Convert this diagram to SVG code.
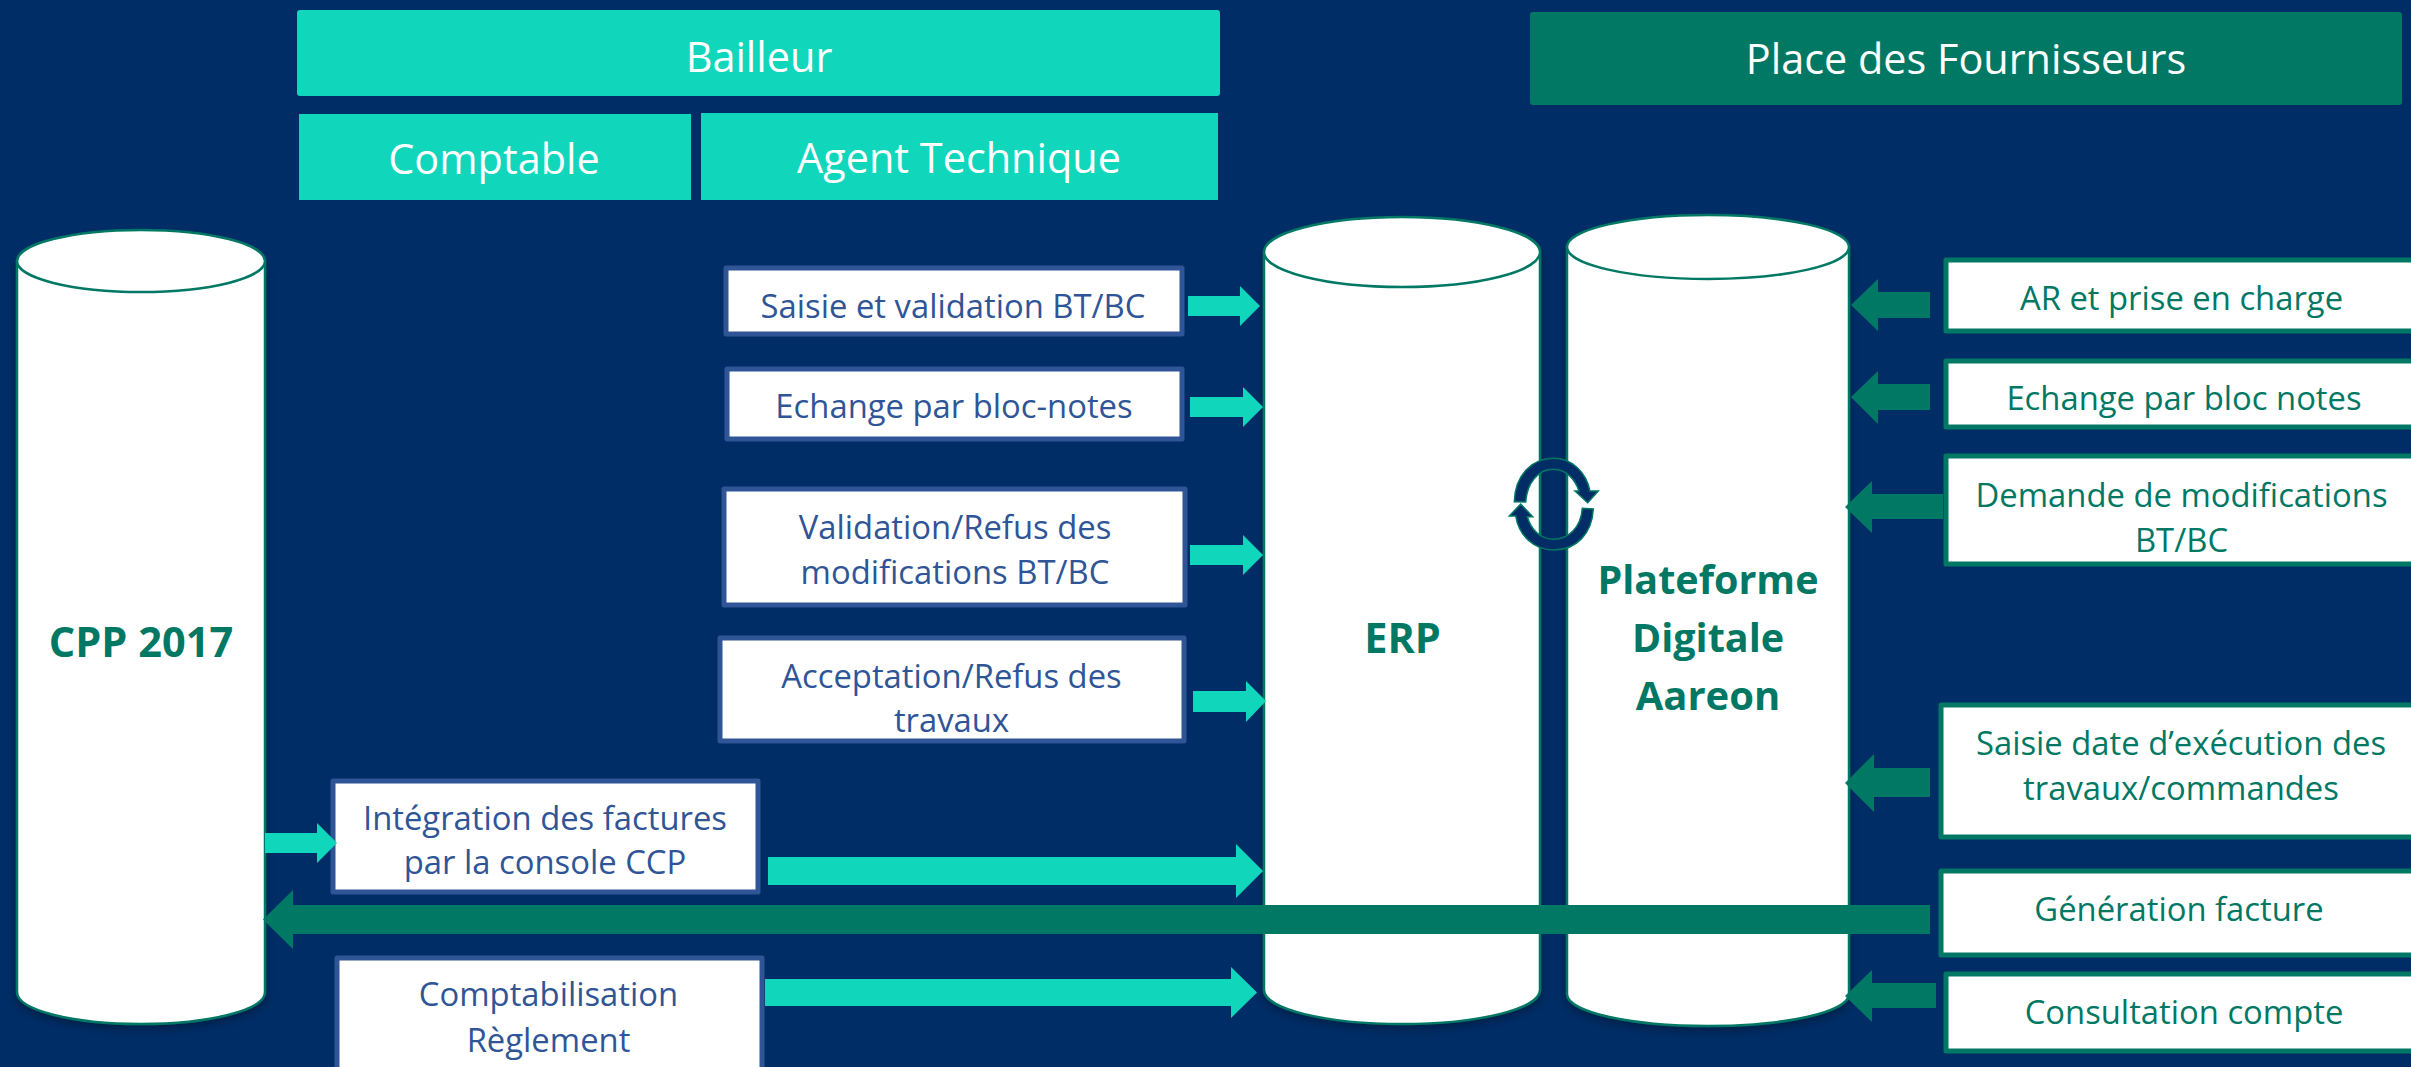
<svg xmlns="http://www.w3.org/2000/svg" width="2411" height="1067" viewBox="0 0 2411 1067">
<style>
text{font-family:"Open Sans","Noto Sans","Liberation Sans",sans-serif;text-anchor:middle}
.h{fill:#fff;font-size:41.4px}
.ht{fill:#10d6bc}
.hg{fill:#007864}
.bb{fill:#fff;stroke:#2f5597;stroke-width:5;stroke-linejoin:round}
.bg{fill:#fff;stroke:#007864;stroke-width:5;stroke-linejoin:round}
.tb{fill:#2f5597;font-size:32.800px}
.tg{fill:#007864;font-size:32.800px}
.cy{fill:#fff;stroke:#007864;stroke-width:2.500}
.cyt{fill:#007864;font-size:41.500px;font-weight:700}
.cyn{font-size:39.500px}
.at{fill:#10d6bc}
.ag{fill:#007864}
.ci{fill:#002d66;stroke:#007864;stroke-width:1.500}
</style>
<defs>
<filter id="sh" x="-10%" y="-5%" width="120%" height="110%"><feDropShadow dx="0" dy="4" stdDeviation="4" flood-color="#000" flood-opacity="0.3"/></filter>
</defs>
<rect width="2411" height="1067" fill="#002d66"/>
<g id="header-bailleur"><rect class="ht" x="297" y="10" width="923" height="86" rx="3"/><text class="h" x="759" y="72">Bailleur</text></g>
<g id="header-comptable"><rect class="ht" x="299" y="114" width="392" height="86"/><text class="h" x="494" y="174">Comptable</text></g>
<g id="header-agent"><rect class="ht" x="701" y="113" width="517" height="87"/><text class="h" x="959" y="173">Agent Technique</text></g>
<g id="header-fournisseurs"><rect class="hg" x="1530" y="12" width="872" height="93" rx="3"/><text class="h" x="1966" y="74">Place des Fournisseurs</text></g>

<g id="cpp"><path class="cy" filter="url(#sh)" d="M17 261V992C17 1010 72 1024 141 1024S265 1010 265 992V261Z"/><ellipse class="cy" cx="141" cy="261" rx="124" ry="31"/><text class="cyt" x="141" y="657">CPP 2017</text></g>
<g id="erp"><path class="cy" filter="url(#sh)" d="M1264 252V990C1264 1009 1326 1024 1402 1024S1540 1009 1540 990V252Z"/><ellipse class="cy" cx="1402" cy="252" rx="138" ry="35"/><text class="cyt" x="1402.500" y="653">ERP</text></g>
<g id="aareon"><path class="cy" filter="url(#sh)" d="M1567 247V994C1567 1012 1630 1026 1708 1026S1849 1012 1849 994V247Z"/><ellipse class="cy" cx="1708" cy="247" rx="141" ry="32"/><text class="cyt cyn" x="1708" y="594">Plateforme</text><text class="cyt cyn" x="1708" y="652">Digitale</text><text class="cyt" style="font-size:40px" x="1708" y="710">Aareon</text></g>

<g id="saisie-bt"><rect class="bb" x="726" y="268" width="456" height="66"/><text class="tb" x="953" y="318">Saisie et validation BT/BC</text></g>
<g id="echange-bloc"><rect class="bb" x="727" y="369" width="455" height="70"/><text class="tb" x="954" y="418">Echange par bloc-notes</text></g>
<g id="validation"><rect class="bb" x="724" y="489" width="461" height="116"/><text class="tb" x="955" y="539">Validation/Refus des</text><text class="tb" x="955" y="584">modifications BT/BC</text></g>
<g id="acceptation"><rect class="bb" x="720" y="638" width="464" height="103"/><text class="tb" x="951.500" y="688">Acceptation/Refus des</text><text class="tb" x="951.500" y="732">travaux</text></g>
<g id="integration"><rect class="bb" x="333" y="781" width="425" height="111"/><text class="tb" x="545" y="830">Intégration des factures</text><text class="tb" x="545" y="874">par la console CCP</text></g>
<g id="comptabilisation"><rect class="bb" x="337" y="958" width="425" height="120"/><text class="tb" x="548.500" y="1006">Comptabilisation</text><text class="tb" x="548.500" y="1052">Règlement</text></g>

<g id="ar"><rect class="bg" x="1946" y="260" width="480" height="71"/><text class="tg" x="2181.500" y="310">AR et prise en charge</text></g>
<g id="echange-notes"><rect class="bg" x="1946" y="361" width="480" height="66"/><text class="tg" x="2184" y="410">Echange par bloc notes</text></g>
<g id="demande"><rect class="bg" x="1946" y="456" width="480" height="108"/><text class="tg" x="2181.500" y="507">Demande de modifications</text><text class="tg" x="2181.500" y="552">BT/BC</text></g>
<g id="saisie-date"><rect class="bg" x="1941" y="705" width="480" height="132"/><text class="tg" x="2181" y="755">Saisie date d’exécution des</text><text class="tg" x="2181" y="800">travaux/commandes</text></g>
<g id="generation"><rect class="bg" x="1941" y="871" width="480" height="84"/><text class="tg" x="2179" y="921">Génération facture</text></g>
<g id="consultation"><rect class="bg" x="1946" y="974" width="480" height="77"/><text class="tg" x="2184" y="1024">Consultation compte</text></g>

<g id="connectors">
<polygon class="at" points="1188,296 1240,296 1240,286 1260,306 1240,326 1240,316 1188,316"/>
<polygon class="at" points="1190,397 1243,397 1243,387 1263,407 1243,427 1243,417 1190,417"/>
<polygon class="at" points="1190,545 1243,545 1243,535 1263,555 1243,575 1243,565 1190,565"/>
<polygon class="at" points="1193,691 1246,691 1246,681 1266,701 1246,722 1246,712 1193,712"/>
<polygon class="at" points="265,833 317,833 317,823 337,843 317,863 317,853 265,853"/>
<polygon class="at" points="768,857 1236,857 1236,844 1263,871 1236,898 1236,885 768,885"/>
<polygon class="at" points="765,979 1231,979 1231,967 1257,992.500 1231,1018 1231,1006 765,1006"/>
<polygon class="ag" points="1930,905 293,905 293,890 263,919.500 293,949 293,934 1930,934"/>
<polygon class="ag" points="1930,292 1878,292 1878,279 1851,305 1878,331 1878,318 1930,318"/>
<polygon class="ag" points="1930,384 1878,384 1878,371 1851,397 1878,424 1878,410 1930,410"/>
<polygon class="ag" points="1943,494 1872,494 1872,481 1845,507 1872,533 1872,519 1943,519"/>
<polygon class="ag" points="1930,768 1874,768 1874,754 1845,783 1874,812 1874,797 1930,797"/>
<polygon class="ag" points="1936,983 1872,983 1872,970 1845,996 1872,1022 1872,1008 1936,1008"/>
<path class="ci" d="M1514.300 501.700C1515 475 1532 458.300 1553.300 458.300C1572 458.300 1586 472 1590 491H1598.300L1587.700 502.700L1575 491H1579C1575 479 1566 469.300 1553.300 469.300C1538 469.300 1527 483 1525.700 502Z"/>
<path class="ci" d="M1593.300 509C1592 534 1576 550 1554 550C1534 550 1519 536 1515.700 516H1509.300L1520.700 504L1532.700 516.700H1527.300C1531 530 1541 539.300 1553.300 539.300C1569 539.300 1581 527 1582.300 508.300Z"/>
</g>
</svg>
